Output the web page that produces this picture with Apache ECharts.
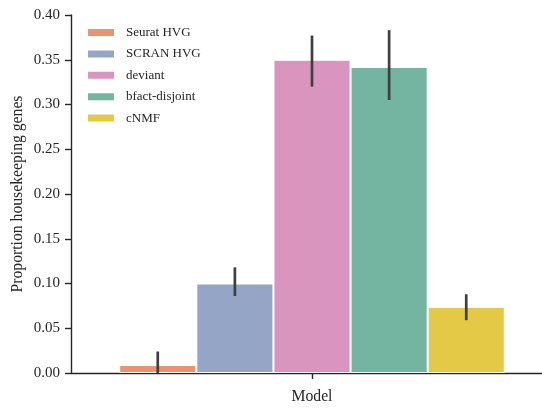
<!DOCTYPE html>
<html>
<head>
<meta charset="utf-8">
<script src="https://cdn.jsdelivr.net/npm/echarts@6/dist/echarts.min.js"></script>
<style>
  html, body { margin: 0; padding: 0; background: #fff; }
  #chart { width: 542px; height: 408px; }
</style>
</head>
<body>
<div id="chart"></div>
<script>
// Mean proportion of housekeeping genes per model, with 95% CI bounds
const categories = ['Model'];
const models = ['Seurat HVG', 'SCRAN HVG', 'deviant', 'bfact-disjoint', 'cNMF'];
const means = [0.009, 0.100, 0.350, 0.342, 0.074];
const ciLow = [0.000, 0.086, 0.320, 0.305, 0.059];
const ciHigh = [0.024, 0.118, 0.377, 0.383, 0.088];
const colors = ['#e8956f', '#94a5c5', '#da95be', '#73b5a1', '#e4c947'];
const yTicks = [0, 0.05, 0.10, 0.15, 0.20, 0.25, 0.30, 0.35, 0.40];

const FONT = 'Liberation Serif';
const INK = '#262626';
const chart = echarts.init(document.getElementById('chart'), null, { renderer: 'canvas' });

const barSeries = models.map((name, i) => ({
  name: name,
  type: 'bar',
  data: [means[i]],
  barGap: '0%',
  barCategoryGap: '20%',
  itemStyle: { color: colors[i], borderColor: '#ffffff', borderWidth: 1 },
  emphasis: { disabled: true }
}));

// Error bars: one vertical line per model, centred on its bar
const errorSeries = {
  type: 'custom',
  z: 10,
  silent: true,
  data: models.map((m, i) => [0, ciLow[i], ciHigh[i], i]),
  encode: { x: 0, y: [1, 2] },
  renderItem: function (params, api) {
    const idx = api.value(3);
    const catW = api.size([1, 0])[0];
    const barW = catW * 0.8 / models.length;
    const center = api.coord([0, 0])[0];
    const x = center + (idx - (models.length - 1) / 2) * barW;
    const y1 = api.coord([0, api.value(1)])[1];
    const y2 = api.coord([0, api.value(2)])[1];
    return {
      type: 'line',
      shape: { x1: x, y1: y1, x2: x, y2: y2 },
      style: { stroke: '#3f3f3f', lineWidth: 2.7 }
    };
  }
};

chart.setOption({
  animation: false,
  backgroundColor: '#ffffff',
  grid: { left: 71, right: -11, top: 15, bottom: 35, containLabel: false, outerBoundsMode: 'none' },
  legend: {
    data: models,
    orient: 'vertical',
    left: 86,
    top: 26,
    padding: 0,
    icon: 'rect',
    itemWidth: 28,
    itemHeight: 9,
    itemGap: 8.4,
    textStyle: { fontFamily: FONT, fontSize: 13, color: INK, padding: [0, 0, 0, 6] },
    selectedMode: false
  },
  xAxis: {
    type: 'category',
    data: categories,
    name: 'Model',
    nameLocation: 'middle',
    nameGap: 16,
    nameMoveOverlap: false,
    nameTextStyle: { fontFamily: FONT, fontSize: 15.7, color: INK },
    axisLine: { lineStyle: { color: INK, width: 1.4 } },
    axisTick: { show: true, alignWithLabel: true, length: 6, lineStyle: { color: INK, width: 1.4 } },
    axisLabel: { show: false }
  },
  yAxis: {
    type: 'value',
    min: 0,
    max: 0.4,
    interval: 0.05,
    name: 'Proportion housekeeping genes',
    nameLocation: 'middle',
    nameRotate: 90,
    nameGap: 45,
    nameMoveOverlap: false,
    nameTextStyle: { fontFamily: FONT, fontSize: 15.7, color: INK },
    splitLine: { show: false },
    axisLine: { show: true, lineStyle: { color: INK, width: 1.4 } },
    axisTick: { show: true, length: 6, lineStyle: { color: INK, width: 1.4 } },
    axisLabel: {
      fontFamily: FONT, fontSize: 15, color: INK, margin: 11,
      formatter: v => {
        const t = yTicks.find(k => Math.abs(k - v) < 1e-9);
        return (t !== undefined ? t : v).toFixed(2);
      }
    }
  },
  series: barSeries.concat([errorSeries])
});
</script>
</body>
</html>
